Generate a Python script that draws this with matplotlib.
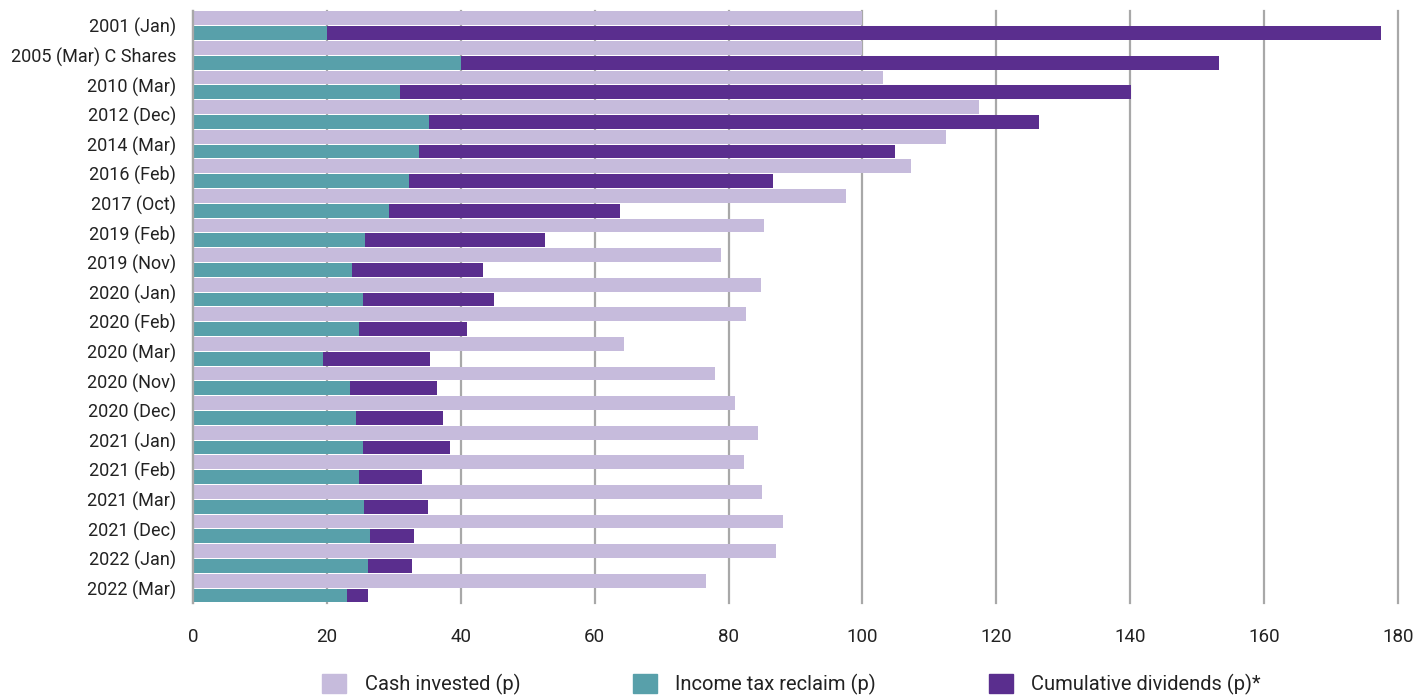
import numpy as np
import matplotlib.pyplot as plt
from matplotlib.patches import Patch

plt.rcParams['font.family'] = ['Roboto', 'DejaVu Sans']

categories = ['2001 (Jan)', '2005 (Mar) C Shares', '2010 (Mar)', '2012 (Dec)', '2014 (Mar)',
              '2016 (Feb)', '2017 (Oct)', '2019 (Feb)', '2019 (Nov)', '2020 (Jan)',
              '2020 (Feb)', '2020 (Mar)', '2020 (Nov)', '2020 (Dec)', '2021 (Jan)',
              '2021 (Feb)', '2021 (Mar)', '2021 (Dec)', '2022 (Jan)', '2022 (Mar)']

cash_invested = [100.0, 100.0, 103.1, 117.4, 112.5, 107.3, 97.5, 85.3, 78.9, 84.9,
                 82.6, 64.4, 78.0, 81.0, 84.4, 82.3, 85.0, 88.1, 87.1, 76.6]
tax_reclaim = [20.0, 40.0, 30.9, 35.3, 33.8, 32.3, 29.3, 25.7, 23.8, 25.4,
               24.8, 19.4, 23.5, 24.3, 25.4, 24.8, 25.5, 26.4, 26.1, 23.0]
# end point of the dark bar (reclaim + dividends)
total_return = [177.5, 153.3, 140.1, 126.3, 104.8, 86.6, 63.8, 52.6, 43.3, 45.0,
                40.9, 35.4, 36.5, 37.3, 38.4, 34.2, 35.1, 33.0, 32.7, 26.1]
dividends = [t - r for t, r in zip(total_return, tax_reclaim)]

c_cash = '#c6bbdc'
c_tax = '#58a0aa'
c_div = '#5a2e8e'

fig = plt.figure(figsize=(14.28, 6.95), dpi=100)
ax = fig.add_axes([193 / 1428, 0.1324, 1205 / 1428, 0.852])

y = np.arange(len(categories))
h = 0.466
ax.barh(y - 0.25, cash_invested, height=h, color=c_cash, linewidth=0)
ax.barh(y + 0.25, tax_reclaim, height=h, color=c_tax, linewidth=0)
ax.barh(y + 0.25, dividends, left=tax_reclaim, height=h, color=c_div, linewidth=0)

ax.set_ylim(len(categories) - 0.5, -0.5)
ax.set_xlim(0, 180)
ax.set_yticks(y)
ax.set_yticklabels(categories, fontsize=13, color='#222222')
ax.set_xticks(np.arange(0, 181, 20))
ax.tick_params(axis='x', length=0, pad=18, labelsize=13.5, labelcolor='#222222')
ax.tick_params(axis='y', length=0, pad=12)

ax.grid(axis='x', color='#a8a8a8', linewidth=1.6, clip_on=False)
ax.set_axisbelow(True)
for s in ['top', 'right', 'bottom']:
    ax.spines[s].set_visible(False)
ax.spines['left'].set_color('#a8a8a8')
ax.spines['left'].set_linewidth(1.6)

handles = [Patch(color=c_cash, label='Cash invested (p)'),
           Patch(color=c_tax, label='Income tax reclaim (p)'),
           Patch(color=c_div, label='Cumulative dividends (p)*')]
fig.legend(handles=handles, loc='lower left', bbox_to_anchor=(0.213, -0.026), ncol=3,
           frameon=False, fontsize=14.5, handlelength=1.2, handleheight=1.1,
           columnspacing=5.6, handletextpad=0.9, labelcolor='#222222')

fig.savefig('out.png', dpi=100)
